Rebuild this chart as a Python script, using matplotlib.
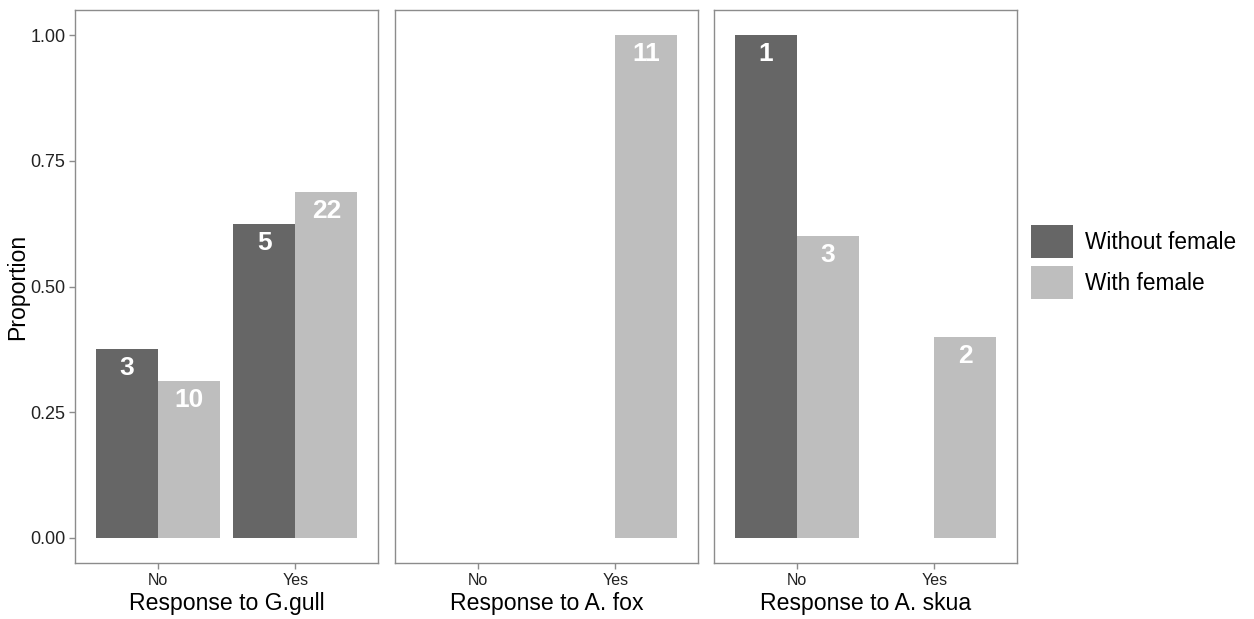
import matplotlib
matplotlib.use("Agg")
import matplotlib.pyplot as plt
from matplotlib.patches import Patch

plt.rcParams['font.family'] = ['Liberation Sans', 'DejaVu Sans']

# Data: proportion of males responding, by presence of the female
panels = ["Response to G.gull", "Response to A. fox", "Response to A. skua"]
responses = ["No", "Yes"]
groups = ["Without female", "With female"]
colors = ["#666666", "#bebebe"]

# proportions[panel][group] -> values for No, Yes (None = no bar)
proportions = [
    [[0.375, 0.625], [0.3125, 0.6875]],
    [[None, None], [None, 1.0]],
    [[1.0, None], [0.6, 0.4]],
]
counts = [
    [[3, 5], [10, 22]],
    [[None, None], [None, 11]],
    [[1, None], [3, 2]],
]

fig = plt.figure(figsize=(12.54, 6.19), dpi=100)
W, H = 1254, 619
left_px = [75, 395, 714]
pw = 303
top_px, bot_px = 10, 563

border = "#8c8c8c"
axes = []
for i in range(3):
    ax = fig.add_axes([left_px[i] / W, 1 - bot_px / H, pw / W, (bot_px - top_px) / H])
    axes.append(ax)
    bw = 0.45
    for g in range(2):
        for r in range(2):
            v = proportions[i][g][r]
            if v is None:
                continue
            x = r + 1 + (g - 0.5) * bw
            ax.bar(x, v, width=bw, color=colors[g], edgecolor="none")
            ax.annotate(str(counts[i][g][r]), (x, v), xytext=(0, -5),
                        textcoords="offset points", ha="center", va="top",
                        color="white", fontsize=19, fontweight="bold")
    ax.set_xlim(0.4, 2.6)
    ax.set_ylim(-0.05, 1.05)
    ax.set_xticks([1, 2])
    ax.set_xticklabels(responses, fontsize=11.5)
    ax.set_xlabel(panels[i], fontsize=16.6, labelpad=3, color="black")
    for s in ax.spines.values():
        s.set_color(border)
        s.set_linewidth(1.0)
    ax.tick_params(axis="both", colors=border, labelcolor="#222222", length=4, width=1, pad=3)
    if i == 0:
        ax.set_yticks([0, 0.25, 0.5, 0.75, 1.0])
        ax.set_yticklabels(["0.00", "0.25", "0.50", "0.75", "1.00"], fontsize=13)
        ax.set_ylabel("Proportion", fontsize=16.6, labelpad=1)
    else:
        ax.set_yticks([])

handles = [Patch(facecolor=c, edgecolor="none") for c in colors]
fig.legend(handles, groups, loc="center left", bbox_to_anchor=(1022 / W, 1 - 262 / H),
           frameon=False, fontsize=16.3, handlelength=1.85, handleheight=1.85,
           labelspacing=0.35, handletextpad=0.55, borderaxespad=0)

fig.savefig("out.png", dpi=100)
